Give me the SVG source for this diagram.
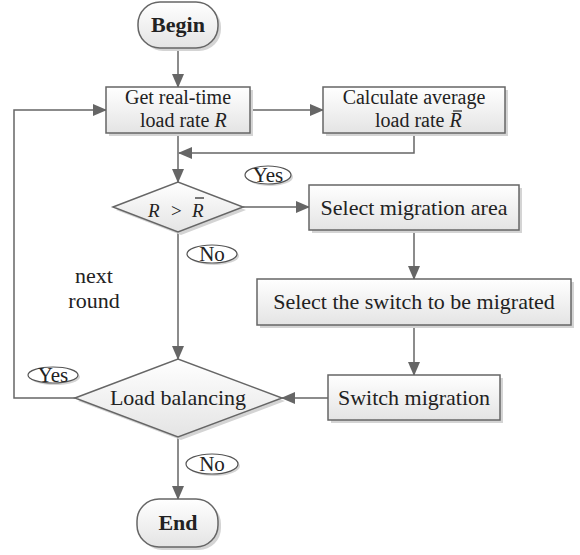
<svg xmlns="http://www.w3.org/2000/svg" width="580" height="555" viewBox="0 0 580 555">
<style>
.box{fill:url(#g);stroke:#666;stroke-width:1.5}
.sh{fill:#d4d4d4}
.t{font-family:"Liberation Serif","Times New Roman",serif;font-size:22px;fill:#222}
.s2{font-size:20px}
.b{font-weight:bold;text-anchor:middle}
.m{text-anchor:middle}
.i{font-style:italic}
.lbl{fill:#fff;stroke:#555;stroke-width:1.2}
.c{fill:none;stroke:#666;stroke-width:1.5}
</style>
<defs>
<linearGradient id="g" x1="0" y1="0" x2="0" y2="1">
<stop offset="0" stop-color="#ffffff"/>
<stop offset="1" stop-color="#e4e4e4"/>
</linearGradient>
<marker id="a" markerUnits="userSpaceOnUse" markerWidth="14" markerHeight="12" refX="13" refY="6" orient="auto">
<path d="M0,0 L14,6 L0,12 Z" fill="#666"/>
</marker>
</defs>

<g id="connectors">
<path class="c" d="M178,48 V87" marker-end="url(#a)"/>
<path class="c" d="M250,110 H323" marker-end="url(#a)"/>
<path class="c" d="M414,133 V153 H179" marker-end="url(#a)"/>
<path class="c" d="M178,133 V182" marker-end="url(#a)"/>
<path class="c" d="M243,207 H309" marker-end="url(#a)"/>
<path class="c" d="M414,230 V279" marker-end="url(#a)"/>
<path class="c" d="M414,325 V375" marker-end="url(#a)"/>
<path class="c" d="M328,398 H282" marker-end="url(#a)"/>
<path class="c" d="M178,232 V359" marker-end="url(#a)"/>
<path class="c" d="M75,398 H14 V110 H106" marker-end="url(#a)"/>
<path class="c" d="M178,437 V499" marker-end="url(#a)"/>
</g>

<g id="begin">
<rect class="sh" x="141" y="5" width="80" height="46" rx="22"/>
<rect class="box" x="138" y="2" width="80" height="46" rx="22"/>
<text class="t b" x="178" y="32">Begin</text>
</g>

<g id="get-load">
<rect class="sh" x="109" y="90" width="144" height="46"/>
<rect class="box" x="106" y="87" width="144" height="46"/>
<text class="t s2 m" x="178" y="104">Get real-time</text>
<text class="t s2" x="140" y="127">load rate <tspan class="i">R</tspan></text>
</g>

<g id="calc-avg">
<rect class="sh" x="326" y="90" width="182" height="46"/>
<rect class="box" x="323" y="87" width="182" height="46"/>
<text class="t s2 m" x="414" y="104">Calculate average</text>
<text class="t s2" x="375" y="127">load rate <tspan class="i">R</tspan></text>
<line x1="453" y1="111" x2="462" y2="111" stroke="#222" stroke-width="1.2"/>
</g>

<g id="decision-r">
<polygon class="sh" points="116,210 181,185 246,210 181,235"/>
<polygon class="box" points="113,207 178,182 243,207 178,232"/>
<text class="t" style="font-size:19px" x="148" y="217"><tspan class="i">R</tspan></text>
<text class="t" style="font-size:19px" x="171" y="217">&gt;</text>
<text class="t" style="font-size:19px" x="192" y="217"><tspan class="i">R</tspan></text>
<line x1="195" y1="198" x2="204" y2="198" stroke="#222" stroke-width="1.2"/>
</g>

<g id="yes1">
<ellipse class="sh" cx="270" cy="177" rx="23" ry="9"/>
<ellipse class="lbl" cx="268" cy="175" rx="23" ry="9"/>
<text class="t m" style="font-size:21px" x="268" y="182">Yes</text>
</g>

<g id="no1">
<ellipse class="sh" cx="214" cy="256" rx="25" ry="9"/>
<ellipse class="lbl" cx="212" cy="254" rx="25" ry="9"/>
<text class="t m" style="font-size:21px" x="212" y="261">No</text>
</g>

<g id="select-area">
<rect class="sh" x="312" y="188" width="210" height="45"/>
<rect class="box" x="309" y="185" width="210" height="45"/>
<text class="t m" x="414" y="215">Select migration area</text>
</g>

<g id="select-switch">
<rect class="sh" x="260" y="282" width="314" height="46"/>
<rect class="box" x="257" y="279" width="314" height="46"/>
<text class="t m" x="414" y="309">Select the switch to be migrated</text>
</g>

<g id="switch-migration">
<rect class="sh" x="331" y="378" width="172" height="45"/>
<rect class="box" x="328" y="375" width="172" height="45"/>
<text class="t m" x="414" y="405">Switch migration</text>
</g>

<g id="load-balancing">
<polygon class="sh" points="78,401 181,362 285,401 181,440"/>
<polygon class="box" points="75,398 178,359 282,398 178,437"/>
<text class="t m" x="178" y="405">Load balancing</text>
</g>

<g id="next-round">
<text class="t m" x="94" y="283">next</text>
<text class="t m" x="94" y="308">round</text>
</g>

<g id="yes2">
<ellipse class="sh" cx="55" cy="377" rx="25" ry="8"/>
<ellipse class="lbl" cx="53" cy="375" rx="25" ry="8"/>
<text class="t m" style="font-size:21px" x="53" y="382">Yes</text>
</g>

<g id="no2">
<ellipse class="sh" cx="214" cy="466" rx="26" ry="10"/>
<ellipse class="lbl" cx="212" cy="464" rx="26" ry="10"/>
<text class="t m" style="font-size:21px" x="212" y="471">No</text>
</g>

<g id="end">
<rect class="sh" x="140" y="502" width="81" height="48" rx="22"/>
<rect class="box" x="137" y="499" width="81" height="48" rx="22"/>
<text class="t b" x="178" y="530">End</text>
</g>
</svg>
